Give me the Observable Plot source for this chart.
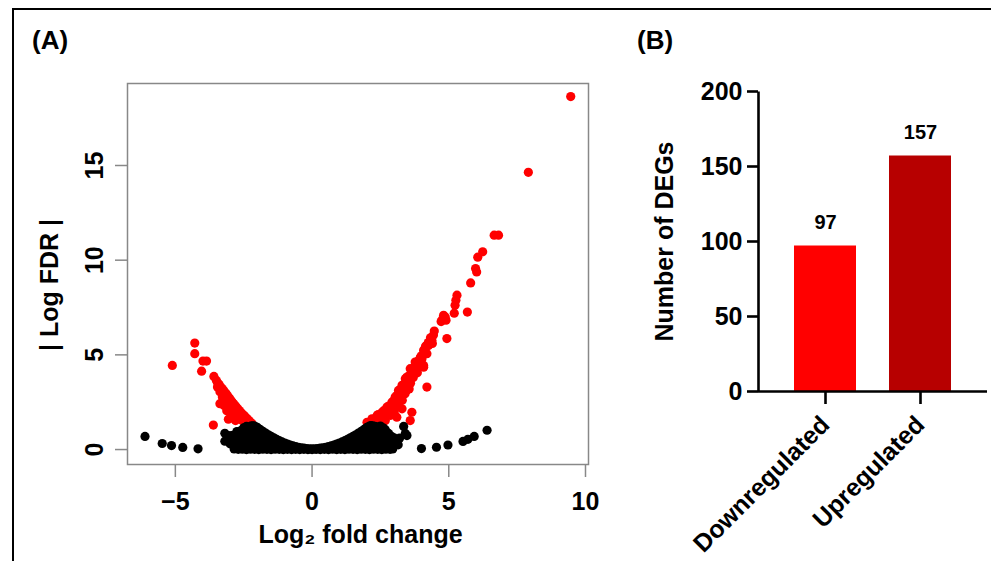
<!DOCTYPE html>
<html>
<head>
<meta charset="utf-8">
<script src="https://cdn.jsdelivr.net/npm/d3@7"></script>
<script src="https://cdn.jsdelivr.net/npm/@observablehq/plot@0.6"></script>
<style>
html, body { margin: 0; padding: 0; background: #fff; }
#fig { position: relative; width: 991px; height: 561px; overflow: hidden; background: #fff;
  font-family: "Liberation Sans", Arial, sans-serif; }
#border { position: absolute; left: 12px; top: 8px; width: 1100px; height: 700px;
  border-left: 2px solid #000; border-top: 2px solid #000; pointer-events: none; }
.panel { position: absolute; top: 0; }
.tag { position: absolute; font-weight: bold; font-size: 26px; line-height: 1; color: #000; }
</style>
</head>
<body>
<div id="fig">
  <div id="a" class="panel" style="left:0;width:620px;height:561px"></div>
  <div id="b" class="panel" style="left:620px;width:371px;height:561px"></div>
  <div class="tag" style="left:32px;top:27px">(A)</div>
  <div class="tag" style="left:637px;top:27px">(B)</div>
  <div id="border"></div>
</div>
<script>
// ---------- Panel A: volcano plot data (log2 fold change, |log FDR|) ----------
const sigPoints = [
  [-5.11,4.44],[-4.29,5.62],[-4.29,5.06],[-3.99,4.67],[-3.86,4.67],[-4.04,4.14],
  [-3.59,3.86],[-3.5,3.65],[-3.45,3.52],[-3.4,3.44],[-3.34,3.3],[-3.28,3.21],[-3.23,3.1],[-3.19,3.03],
  [-3.14,2.94],[-3.1,2.86],[-3.05,2.76],[-3.01,2.68],[-2.96,2.58],[-2.92,2.5],[-2.87,2.42],[-2.82,2.33],
  [-2.77,2.24],[-2.72,2.15],[-2.66,2.06],[-2.61,1.97],[-2.55,1.88],[-2.49,1.8],[-2.43,1.71],[-2.37,1.62],
  [-2.31,1.53],[-2.25,1.44],[-2.2,1.38],
  [-3.46,3.3],[-3.37,3.05],[-3.28,2.77],[-3.22,2.6],[-3.16,2.42],[-3.37,2.42],[-3.22,2.33],[-3.08,2.2],
  [-2.98,2.24],[-2.9,2.05],[-2.86,1.97],[-2.78,1.85],[-2.68,1.71],[-2.8,1.53],[-2.6,1.6],[-2.55,1.53],
  [-2.45,1.45],[-3.06,1.6],[-3.61,1.29],[-2.95,1.8],[-3.12,2.05],
  [2.01,1.44],[2.05,1.35],[2.12,1.45],[2.19,1.62],[2.25,1.55],[2.3,1.62],[2.35,1.7],[2.38,1.8],[2.42,1.85],
  [2.45,1.8],[2.5,1.65],[2.56,1.97],[2.62,2.05],[2.68,1.53],[2.7,1.9],[2.74,2.24],[2.8,2.3],[2.85,2.1],
  [2.86,1.8],[2.9,2.0],[2.92,2.5],[2.95,2.35],[2.98,2.15],[3.0,1.95],[3.0,2.6],[3.04,2.77],[3.1,2.24],
  [3.1,2.85],[3.1,1.71],[3.15,2.5],[3.16,3.12],[3.2,3.0],[3.23,2.59],[3.25,2.8],[3.29,2.15],[3.29,3.39],
  [3.3,2.6],[3.35,2.95],[3.35,3.2],[3.4,2.95],[3.4,3.5],[3.41,3.74],[3.45,3.1],[3.47,3.48],[3.47,3.83],
  [3.5,3.6],[3.55,3.2],[3.55,3.9],[3.59,4.27],[3.59,1.53],[3.6,3.5],[3.65,1.97],[3.65,4.05],[3.65,4.18],
  [3.7,3.8],[3.72,4.3],[3.77,4.35],[3.77,4.62],[3.85,4.05],[3.85,4.5],[3.89,4.35],[3.9,4.7],[3.96,4.53],
  [3.96,4.88],[4.0,4.95],[4.02,4.8],[4.08,4.35],[4.08,4.44],[4.08,5.24],[4.1,5.1],[4.14,5.33],[4.15,5.45],
  [4.2,5.06],[4.2,5.5],[4.2,3.3],[4.25,5.65],[4.26,5.5],[4.33,5.9],[4.38,5.77],[4.4,5.6],[4.44,6.05],
  [4.47,6.26],[4.72,6.76],[4.76,6.86],[4.81,7.09],[4.87,7.0],[4.9,6.83],[4.93,5.86],[5.2,7.2],[5.23,7.62],
  [5.26,7.88],[5.3,8.15],[5.68,7.26],[5.8,8.8],[5.98,9.56],[6.02,9.38],[6.06,10.16],[6.24,10.44],
  [6.66,11.32],[6.82,11.32],[7.91,14.64],[9.46,18.64]
];
const nonSigPoints = [
  [-6.11,0.69],[-5.48,0.32],[-5.14,0.21],[-4.73,0.11],[-4.17,0.04],
  [4.0,0.05],[4.55,0.12],[4.97,0.24],[5.52,0.43],[5.7,0.54],[5.93,0.69],[6.4,1.02],
  [-3.19,0.86],[-3.19,0.44],[-3.04,0.74],
  [3.35,1.22],[3.47,0.74],[3.41,0.85],[3.1,0.48],[3.2,0.6],
  [-2.15,1.25],[-2.1,1.24],[-2.0,1.17],[-1.9,1.06],[-1.8,0.96],[-1.7,0.87],[-1.6,0.78],[-1.5,0.7],
  [-1.4,0.62],[-1.3,0.54],[-1.2,0.47],[-1.1,0.4],[-1.0,0.34],[-0.9,0.29],[-0.8,0.24],[-0.7,0.19],
  [-0.6,0.15],[-0.5,0.12],[-0.4,0.09],[-0.3,0.07],[-0.2,0.05],[-0.1,0.04],[0,0.04],[0.1,0.04],
  [0.2,0.05],[0.3,0.07],[0.4,0.09],[0.5,0.12],[0.6,0.15],[0.7,0.19],[0.8,0.24],[0.9,0.29],[1.0,0.34],
  [1.1,0.4],[1.2,0.47],[1.3,0.54],[1.4,0.62],[1.5,0.7],[1.6,0.78],[1.7,0.87],[1.8,0.96],[1.9,1.06],
  [2.0,1.17],[2.1,1.24],[2.15,1.26],
  [-2.5,1.15],[-2.4,1.22],[-2.3,1.2],[-2.22,1.25],
  [2.22,1.25],[2.3,1.22],[2.4,1.2],[2.5,1.24],[2.6,1.15],[2.68,1.05],
  [-2.75,0.95],[-2.6,1.0],[-2.45,1.0],[-2.3,0.98],[-2.15,1.0],[-2.0,0.95],[-1.9,0.9],
  [1.9,0.9],[2.05,1.0],[2.2,0.98],[2.35,1.02],[2.5,1.0],[2.65,0.95],[2.8,0.85],
  [-2.9,0.75],[-2.75,0.72],[-2.6,0.78],[-2.45,0.74],[-2.3,0.75],[-2.15,0.72],[-2.0,0.76],[-1.85,0.72],[-1.7,0.7],
  [1.7,0.7],[1.85,0.75],[2.0,0.72],[2.15,0.77],[2.3,0.74],[2.45,0.76],[2.6,0.72],[2.75,0.75],[2.9,0.7],[3.0,0.62],
  [-2.95,0.5],[-2.8,0.48],[-2.65,0.52],[-2.5,0.49],[-2.35,0.52],[-2.2,0.5],[-2.05,0.48],[-1.9,0.52],
  [-1.75,0.5],[-1.6,0.48],[-1.45,0.5],[-1.35,0.46],
  [1.35,0.46],[1.45,0.5],[1.6,0.48],[1.75,0.52],[1.9,0.5],[2.05,0.49],[2.2,0.52],[2.35,0.5],[2.5,0.48],
  [2.65,0.52],[2.8,0.5],[2.95,0.47],[3.05,0.42],
  [-3.0,0.3],[-2.85,0.26],[-2.7,0.24],[-2.55,0.27],[-2.4,0.25],[-2.25,0.23],[-2.1,0.27],[-1.95,0.24],
  [-1.8,0.26],[-1.65,0.23],[-1.5,0.25],[-1.35,0.27],[-1.2,0.24],[-1.05,0.22],[-0.95,0.2],
  [0.95,0.2],[1.05,0.22],[1.2,0.25],[1.35,0.23],[1.5,0.26],[1.65,0.24],[1.8,0.25],[1.95,0.27],[2.1,0.23],
  [2.25,0.26],[2.4,0.24],[2.55,0.27],[2.7,0.25],[2.85,0.22],[3.0,0.28],[3.15,0.25],
  [-2.85,0.03],[-2.7,0.01],[-2.55,0.02],[-2.4,0.0],[-2.25,0.02],[-2.1,0.01],[-1.95,0.0],[-1.8,0.02],
  [-1.65,0.01],[-1.5,0.0],[-1.35,0.02],[-1.2,0.01],[-1.05,0.0],[-0.9,0.01],[-0.75,0.0],[-0.6,0.01],
  [-0.45,0.0],[-0.3,0.01],[-0.15,0.0],[0.0,0.0],[0.15,0.01],[0.3,0.0],[0.45,0.01],[0.6,0.0],[0.75,0.02],
  [0.9,0.0],[1.05,0.01],[1.2,0.0],[1.35,0.02],[1.5,0.01],[1.65,0.0],[1.8,0.02],[1.95,0.01],[2.1,0.0],
  [2.25,0.02],[2.4,0.01],[2.55,0.0],[2.7,0.02],[2.85,0.01],[2.95,0.03]
];
const xTicksA = [-5, 0, 5, 10];
const yTicksA = [0, 5, 10, 15];

// ---------- Panel B: number of DEGs ----------
const categories = ["Downregulated", "Upregulated"];
const counts = [97, 157];
const barColors = ["#ff0000", "#b70000"];
const barTicks = [0, 50, 100, 150, 200];

const FONT = '"Liberation Sans", Arial, Helvetica, sans-serif';
const baseStyle = {fontFamily: FONT, fontWeight: "bold", color: "#000", background: "transparent", overflow: "visible", maxWidth: "none"};

const chartA = Plot.plot({
  width: 620, height: 561,
  marginLeft: 127, marginRight: 32, marginTop: 83, marginBottom: 97,
  style: baseStyle,
  x: {domain: [-6.75, 10.11]},
  y: {domain: [-0.79, 19.33]},
  marks: [
    Plot.frame({stroke: "#888", strokeWidth: 1.5}),
    Plot.dot(sigPoints, {x: d => d[0], y: d => d[1], r: 4.6, fill: "#ff0000"}),
    Plot.dot(nonSigPoints, {x: d => d[0], y: d => d[1], r: 4.6, fill: "#000000"}),
    Plot.axisX({ticks: xTicksA, tickSize: 13, tickPadding: 15, stroke: "#888", strokeWidth: 1.5,
      fontSize: 25, fontWeight: "bold", label: null}),
    Plot.axisY({ticks: yTicksA, tickSize: 12, tickFormat: () => "", stroke: "#888", strokeWidth: 1.5, label: null}),
    Plot.text(yTicksA, {y: d => d, text: d => String(d), frameAnchor: "left", dx: -33, rotate: -90,
      textAnchor: "middle", lineAnchor: "middle", fontSize: 25, fontWeight: "bold"}),
    Plot.text(["| Log FDR |"], {text: d => d, frameAnchor: "left", dx: -78, dy: 11, rotate: -90,
      textAnchor: "middle", lineAnchor: "middle", fontSize: 25, fontWeight: "bold"}),
    Plot.text(["Log\u2082 fold change"], {text: d => d, frameAnchor: "bottom", dx: 2.5, dy: 70,
      textAnchor: "middle", lineAnchor: "middle", fontSize: 25, fontWeight: "bold"})
  ]
});
document.getElementById("a").appendChild(chartA);

const barData = categories.map((c, i) => ({category: c, count: counts[i]}));
const W = 371 - 138 - 4, H = 561 - 91 - 170;
const chartB = Plot.plot({
  width: 371, height: 561,
  marginLeft: 138, marginRight: 4, marginTop: 91, marginBottom: 170,
  style: baseStyle,
  x: {domain: categories, paddingInner: 0.344, paddingOuter: 0.365},
  y: {domain: [0, 200]},
  color: {domain: categories, range: barColors},
  marks: [
    Plot.barY(barData, {x: "category", y: "count", fill: "category"}),
    Plot.text(barData, {x: "category", y: "count", text: d => String(d.count), lineAnchor: "bottom", dy: -17,
      fontSize: 20, fontWeight: "bold"}),
    Plot.ruleY([0], {stroke: "#000", strokeWidth: 2.6}),
    Plot.frame({stroke: "#000", strokeWidth: 2.6, strokeDasharray: `0 ${2 * W + H} ${H}`}),
    Plot.axisY({ticks: barTicks, tickSize: 11, tickPadding: 5, strokeWidth: 2.6, fontSize: 25,
      fontWeight: "bold", label: null}),
    Plot.axisX({tickSize: 13, tickPadding: 16, tickRotate: -45, strokeWidth: 2.6, fontSize: 25,
      fontWeight: "bold", label: null}),
    Plot.text(["Number of DEGs"], {text: d => d, frameAnchor: "left", dx: -94, rotate: -90,
      textAnchor: "middle", lineAnchor: "middle", fontSize: 25, fontWeight: "bold"})
  ]
});
document.getElementById("b").appendChild(chartB);
</script>
</body>
</html>
